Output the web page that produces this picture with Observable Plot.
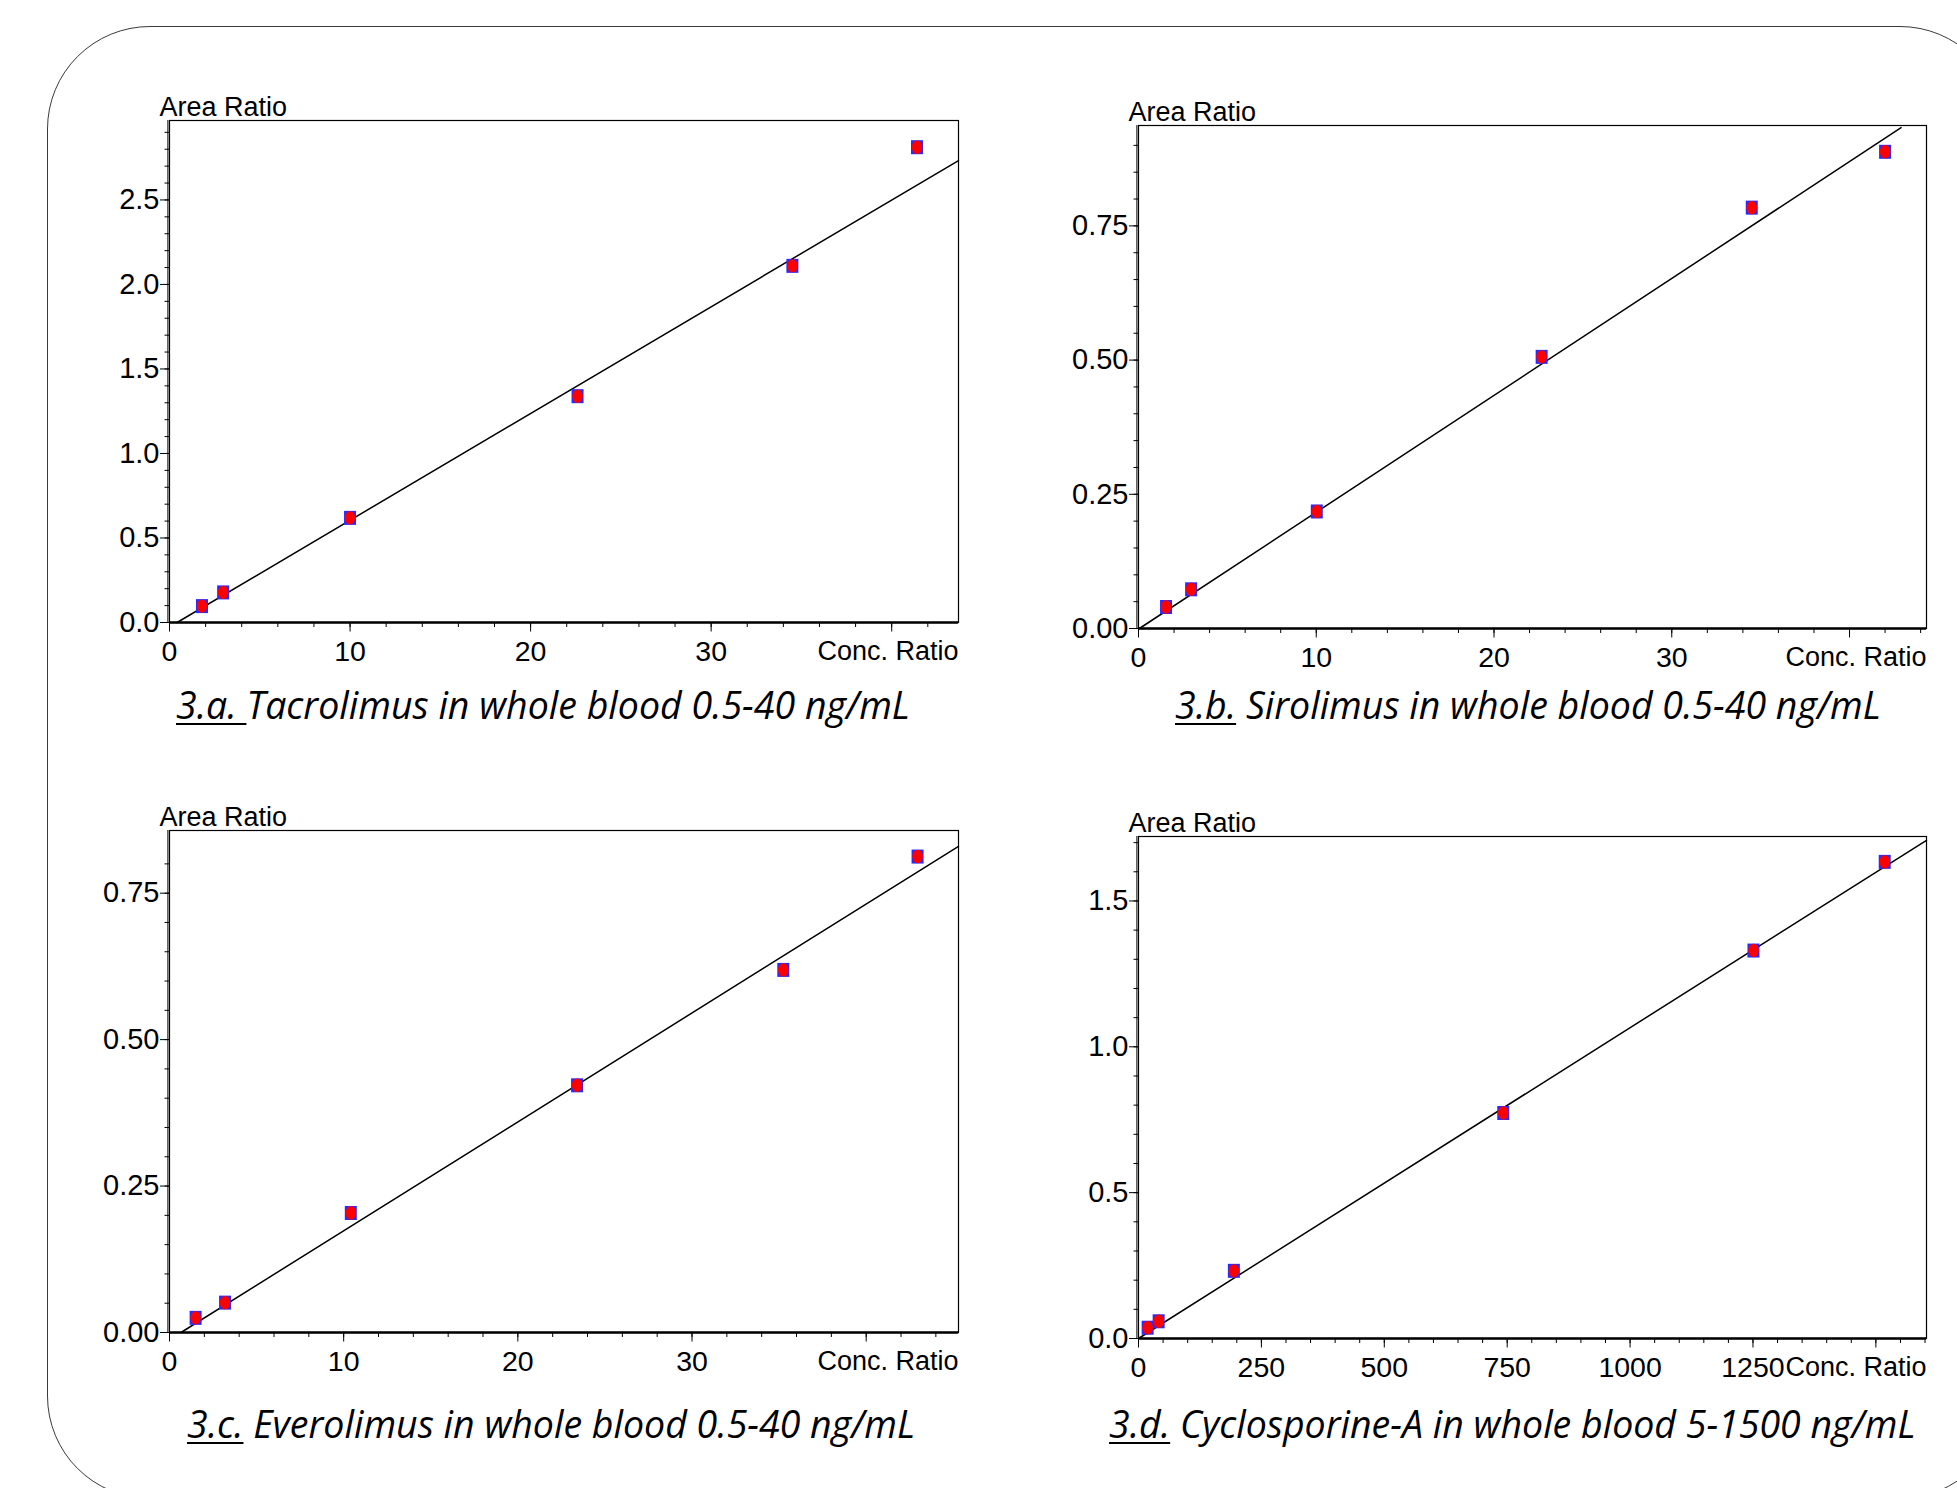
<!DOCTYPE html>
<html><head><meta charset="utf-8">
<script src="https://cdn.jsdelivr.net/npm/d3@7"></script>
<script src="https://cdn.jsdelivr.net/npm/@observablehq/plot@0.6"></script>
<style>
html,body{margin:0;padding:0;background:#fff;}
body{width:1957px;height:1488px;position:relative;overflow:hidden;}
#border{position:absolute;left:47px;top:26px;width:1956px;height:1473px;box-sizing:border-box;border:1.3px solid #3a3a3a;border-radius:103px;}
.panel{position:absolute;}
.cap{position:absolute;font-family:'Open Sans',Lato,sans-serif;font-style:italic;font-size:37.5px;white-space:nowrap;line-height:1;color:#000;}
.cap u{text-decoration-thickness:2px;text-underline-offset:4px;}
</style>
</head><body>
<div id="border"></div>
<script>
// ---- Data ----
// 3.a Tacrolimus
const concA  = [1.80, 2.97, 10.0, 22.6, 34.5, 41.4];
const ratioA = [0.097, 0.178, 0.619, 1.339, 2.110, 2.812];
const fitXA  = [0.42, 43.7];
const fitYA  = [0, 2.733];
// 3.b Sirolimus
const concB  = [1.55, 2.96, 10.03, 22.68, 34.5, 42.0];
const ratioB = [0.040, 0.073, 0.218, 0.506, 0.784, 0.888];
const fitXB  = [0.05, 42.9];
const fitYB  = [0, 0.933];
// 3.c Everolimus
const concC  = [1.50, 3.19, 10.41, 23.4, 35.24, 42.95];
const ratioC = [0.025, 0.051, 0.204, 0.422, 0.619, 0.8125];
const fitXC  = [0.66, 45.3];
const fitYC  = [0, 0.830];
// 3.d Cyclosporine-A
const concD  = [18.6, 41, 194, 742, 1251, 1518];
const ratioD = [0.037, 0.059, 0.232, 0.773, 1.330, 1.634];
const fitXD  = [0, 1603];
const fitYD  = [0, 1.708];

// tick labels
const xMajorAC = [0, 10, 20, 30, 40];
const xLabelAC = [0, 10, 20, 30];
const xMajorD  = [0, 250, 500, 750, 1000, 1250, 1500];
const xLabelD  = [0, 250, 500, 750, 1000, 1250];
const yMajorA  = [0, 0.5, 1.0, 1.5, 2.0, 2.5];
const yMajorBC = [0, 0.25, 0.50, 0.75];
const yMajorD  = [0, 0.5, 1.0, 1.5];

const captions = [
  {u: "3.a. ", rest: "Tacrolimus in whole blood 0.5-40 ng/mL"},
  {u: "3.b.", rest: " Sirolimus in whole blood 0.5-40 ng/mL"},
  {u: "3.c.", rest: " Everolimus in whole blood 0.5-40 ng/mL"},
  {u: "3.d.", rest: " Cyclosporine-A in whole blood 5-1500 ng/mL"}
];

// ---- layout ----
const panels = [
  {frame:[168,957,119,621], xDomain:[0,43.7], yDomain:[0,2.97], conc:concA, ratio:ratioA, fitX:fitXA, fitY:fitYA,
   xMajor:xMajorAC, xLabels:xLabelAC, xMinor:d3.range(0,44,2), yMajor:yMajorA, yMinor:d3.range(0,2.95,0.1), yFmt:".1f",
   cap:captions[0], capPos:[176,686]},
  {frame:[1137,1925,124,627], xDomain:[0,44.33], yDomain:[0,0.937], conc:concB, ratio:ratioB, fitX:fitXB, fitY:fitYB,
   xMajor:xMajorAC, xLabels:xLabelAC, xMinor:d3.range(0,45,2), yMajor:yMajorBC, yMinor:d3.range(0,0.93,0.05), yFmt:".2f",
   cap:captions[1], capPos:[1175,686]},
  {frame:[168,957,829,1331], xDomain:[0,45.3], yDomain:[0,0.857], conc:concC, ratio:ratioC, fitX:fitXC, fitY:fitYC,
   xMajor:xMajorAC, xLabels:xLabelAC, xMinor:d3.range(0,46,2), yMajor:yMajorBC, yMinor:d3.range(0,0.85,0.05), yFmt:".2f",
   cap:captions[2], capPos:[187,1405]},
  {frame:[1137,1925,835,1337], xDomain:[0,1603], yDomain:[0,1.721], conc:concD, ratio:ratioD, fitX:fitXD, fitY:fitYD,
   xMajor:xMajorD, xLabels:xLabelD, xMinor:d3.range(0,1601,50), yMajor:yMajorD, yMinor:d3.range(0,1.71,0.1), yFmt:".1f",
   cap:captions[3], capPos:[1109,1405]}
];

const squareSym = {draw(ctx){ ctx.rect(-6,-7,12,14); }};
const ellipseSym = {draw(ctx){
  const rx=5.2, ry=6.7, k=0.5523;
  ctx.moveTo(rx,0);
  ctx.bezierCurveTo(rx,k*ry,k*rx,ry,0,ry);
  ctx.bezierCurveTo(-k*rx,ry,-rx,k*ry,-rx,0);
  ctx.bezierCurveTo(-rx,-k*ry,-k*rx,-ry,0,-ry);
  ctx.bezierCurveTo(k*rx,-ry,rx,-k*ry,rx,0);
  ctx.closePath();
}};

const mL=110, mR=20, mT=50, mB=60;
for (const p of panels) {
  const [L,R,T,B] = p.frame;
  const data = p.conc.map((c,i)=>({x:c, y:p.ratio[i]}));
  const fit = p.fitX.map((c,i)=>({x:c, y:p.fitY[i]}));
  const fmtY = d3.format(p.yFmt);
  const chart = Plot.plot({
    width: R-L+mL+mR, height: B-T+mT+mB,
    marginLeft:mL, marginRight:mR, marginTop:mT, marginBottom:mB,
    x:{domain:p.xDomain}, y:{domain:p.yDomain},
    style:{fontFamily:"'Liberation Sans', Arial, sans-serif", fontSize:"28px", color:"#000", background:"transparent", overflow:"visible"},
    marks:[
      Plot.frame({stroke:"#000", strokeWidth:1.2}),
      Plot.ruleX([p.xDomain[0]], {dx:-1.6, stroke:"#000", strokeWidth:1}),
      Plot.ruleY([p.yDomain[0]], {stroke:"#000", strokeWidth:2.4}),
      Plot.axisY(p.yMinor, {tickSize:4.5, tickFormat:()=>"", label:null}),
      Plot.axisY(p.yMajor, {tickSize:9, tickPadding:1, tickFormat:d=>fmtY(d), label:null, fontSize:29}),
      Plot.axisX(p.xMinor, {tickSize:5, tickFormat:()=>"", label:null}),
      Plot.axisX(p.xMajor, {tickSize:9.5, tickPadding:8.5, tickFormat:d=>p.xLabels.includes(d)?String(d):"", label:null, fontSize:28.5}),
      Plot.text(["Area Ratio"], {frameAnchor:"top-left", textAnchor:"start", lineAnchor:"bottom", dx:-10, dy:-5, fontSize:27}),
      Plot.text(["Conc. Ratio"], {frameAnchor:"bottom-right", textAnchor:"end", lineAnchor:"top", dx:0, dy:18, fontSize:27}),
      Plot.line(fit, {x:"x", y:"y", stroke:"#000", strokeWidth:1.5}),
      Plot.dot(data, {x:"x", y:"y", symbol:squareSym, fill:"#2a2aff", stroke:"none"}),
      Plot.dot(data, {x:"x", y:"y", symbol:ellipseSym, fill:"#ff0000", stroke:"none"})
    ]
  });
  const wrap = document.createElement("div");
  wrap.className = "panel";
  wrap.style.left = (L - mL + 0.5) + "px";
  wrap.style.top = (T - mT + 0.5) + "px";
  wrap.appendChild(chart);
  document.body.appendChild(wrap);

  const cap = document.createElement("div");
  cap.className = "cap";
  cap.style.left = p.capPos[0] + "px";
  cap.style.top = p.capPos[1] + "px";
  const u = document.createElement("u");
  u.textContent = p.cap.u;
  cap.appendChild(u);
  cap.appendChild(document.createTextNode(p.cap.rest));
  document.body.appendChild(cap);
}
</script>
</body></html>
